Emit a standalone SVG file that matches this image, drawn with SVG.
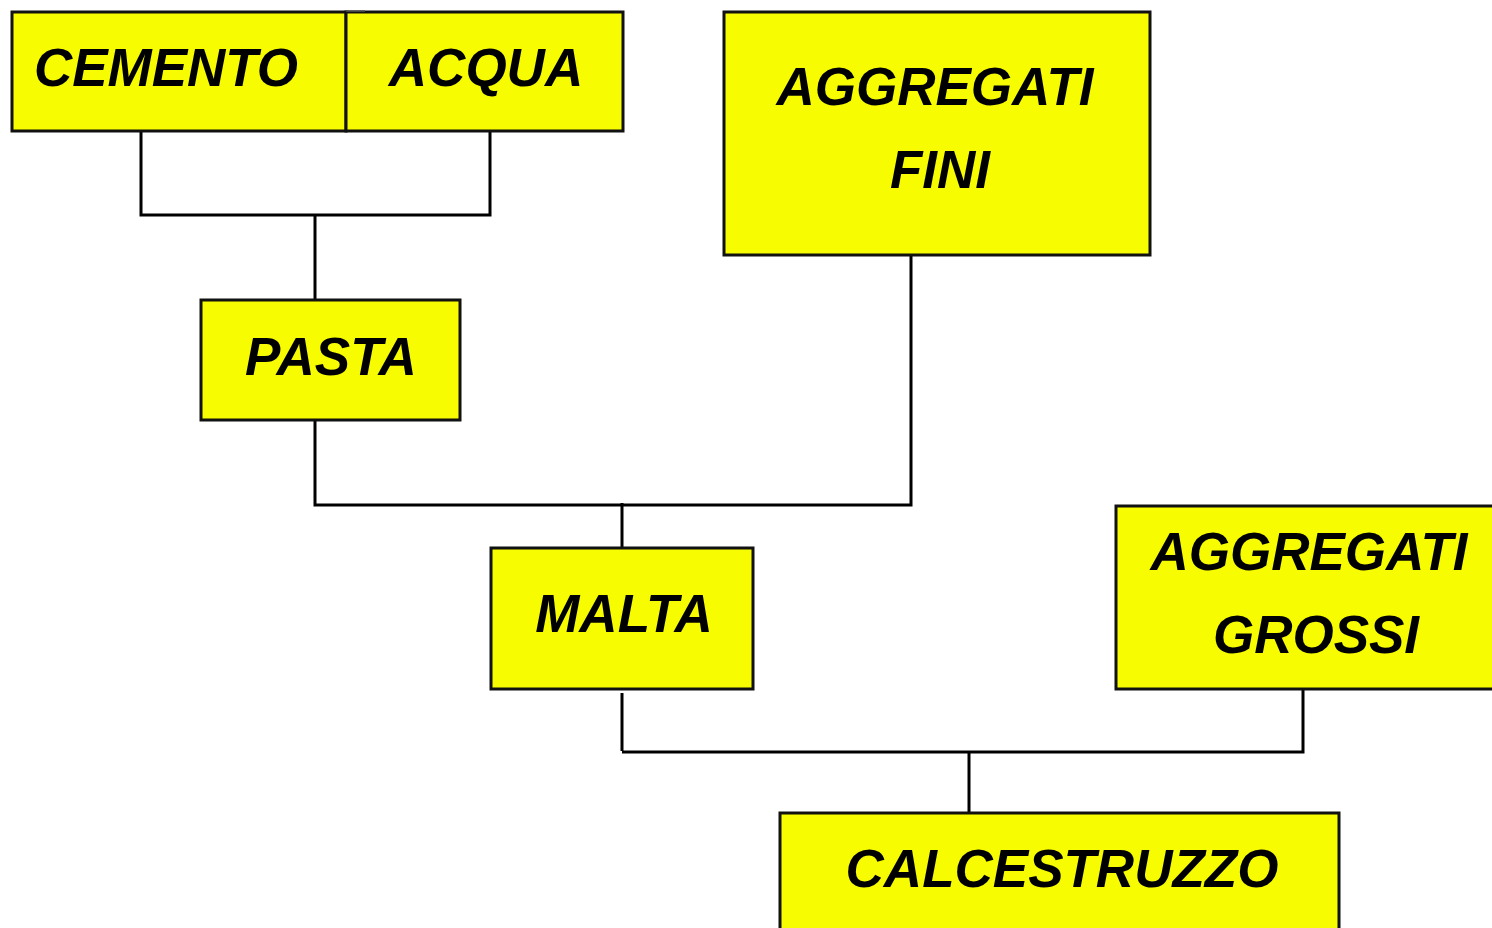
<svg xmlns="http://www.w3.org/2000/svg" width="1492" height="928" viewBox="0 0 1492 928">
  <style>
    .box { fill: #F8FC00; stroke: #111; stroke-width: 3; }
    .lbl { font-family: "Liberation Sans", Arial, sans-serif; font-weight: bold; font-style: italic; font-size: 53px; fill: #000; text-anchor: middle; }
    .wire { fill: none; stroke: #000; stroke-width: 3; }
  </style>
  <rect width="1492" height="928" fill="#fff"/>

  <!-- connectors -->
  <g id="connectors">
    <path class="wire" d="M141 131 V215 H490 V131"/>
    <path class="wire" d="M315 215 V300"/>
    <path class="wire" d="M315 420 V505 H911 V255"/>
    <path class="wire" d="M622 503 V548"/>
    <path class="wire" d="M622 693 V751"/>
    <path class="wire" d="M622 752 H1303 V689"/>
    <path class="wire" d="M969 752 V813"/>
  </g>

  <g id="cemento">
    <rect class="box" x="12" y="12" width="334" height="119"/>
    <text class="lbl" x="166" y="86">CEMENTO</text>
  </g>

  <g id="acqua">
    <rect class="box" x="346" y="12" width="277" height="119"/>
    <line x1="346" y1="11" x2="365" y2="11" stroke="#555" stroke-width="1.5"/>
    <text class="lbl" x="486" y="86">ACQUA</text>
  </g>

  <g id="aggregati-fini">
    <rect class="box" x="724" y="12" width="426" height="243"/>
    <text class="lbl" x="935" y="105">AGGREGATI</text>
    <text class="lbl" x="940" y="188">FINI</text>
  </g>

  <g id="pasta">
    <rect class="box" x="201" y="300" width="259" height="120"/>
    <text class="lbl" x="331" y="375">PASTA</text>
  </g>

  <g id="malta">
    <rect class="box" x="491" y="548" width="262" height="141"/>
    <text class="lbl" x="624" y="632">MALTA</text>
  </g>

  <g id="aggregati-grossi">
    <rect class="box" x="1116" y="506" width="390" height="183"/>
    <text class="lbl" x="1309" y="570">AGGREGATI</text>
    <text class="lbl" x="1316" y="653">GROSSI</text>
  </g>

  <g id="calcestruzzo">
    <rect class="box" x="780" y="813" width="559" height="130"/>
    <text class="lbl" x="1062" y="887">CALCESTRUZZO</text>
  </g>
</svg>
